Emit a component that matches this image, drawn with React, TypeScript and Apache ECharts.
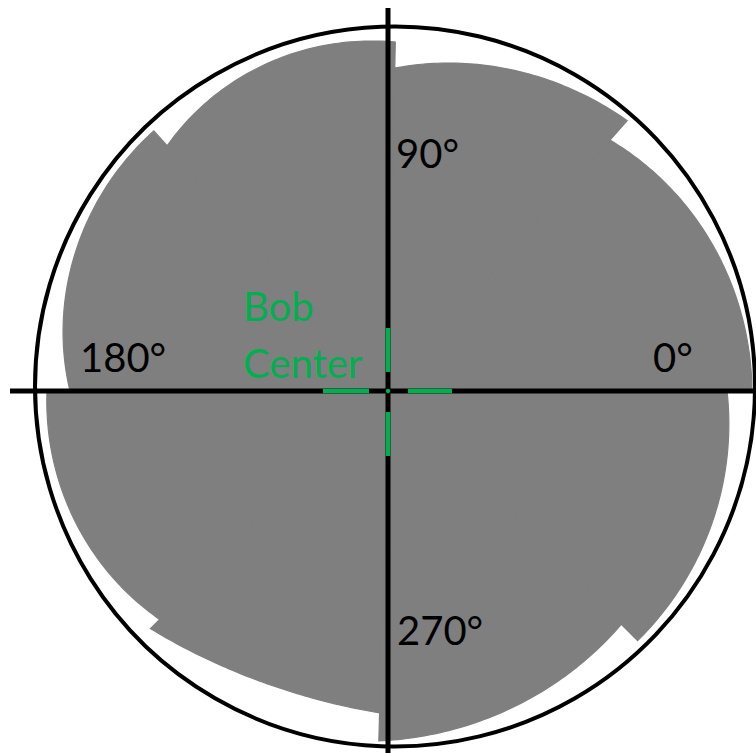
import React, { useEffect, useRef } from "react";
import * as echarts from "echarts";

// Gray "bob" outline: 8 facets, angles in degrees (0° = east, counter-clockwise),
// radius of the facet edge at its start, middle and end angle (chart units = px).
const SECTOR_START_DEG = [0, 48.5, 88.8, 132, 180, 225, 268.5, 315];
const SECTOR_END_DEG = [48.5, 88.8, 132, 180, 225, 268.5, 315, 360];
const SECTOR_R_START = [364, 361, 349, 350, 341, 336, 350, 353];
const SECTOR_R_MID = [356, 344.5, 349, 342, 339, 317, 340, 350];
const SECTOR_R_END = [335, 323, 330, 318, 323, 322, 330, 339];

// Reference circle: centre offset (x, y) and radius
const OUTER_CIRCLE = [[7, 4.5, 360]];

// Cross-hair axes [x1, y1, x2, y2]
const CROSS_LINES = [
  [-378, 0, 368, 0],
  [0, 383, 0, -362],
];

// Green bob-centre marks [x1, y1, x2, y2]
const GREEN_MARKS = [
  [-65, 0, -19, 0],
  [20, 0, 64, 0],
  [0, 19, 0, 63],
  [0, -21, 0, -65],
];
const CENTER_DOT = [[0, 0]];

// Texts
const ANGLE_LABELS = ["0°", "90°", "180°", "270°"];
const CENTER_LABEL = ["Bob", "Center"];

const GRAY = "#7f7f7f";
const GREEN = "#00b050";
const FONT = "Lato, 'Open Sans', sans-serif";

// label layout (pixels)
const ANGLE_LABEL_POS: Record<string, [number, number]> = {
  "0°": [653, 357],
  "90°": [396, 153],
  "180°": [80, 357],
  "270°": [397, 630],
};
const CENTER_LABEL_POS: [number, number][] = [
  [243, 306],
  [243, 363],
];

const lineItem = (color: string, width: number) => (params: any, api: any) => {
  const p1 = api.coord([api.value(0), api.value(1)]);
  const p2 = api.coord([api.value(2), api.value(3)]);
  return {
    type: "line",
    shape: { x1: p1[0], y1: p1[1], x2: p2[0], y2: p2[1] },
    style: { stroke: color, lineWidth: width },
  };
};

export default function App() {
  const ref = useRef<HTMLDivElement>(null);
  useEffect(() => {
    if (!ref.current) return;
    const chart = echarts.init(ref.current, undefined, { renderer: "svg" });

    const sectorData = SECTOR_START_DEG.map((s, i) => [
      s,
      SECTOR_END_DEG[i],
      SECTOR_R_START[i],
      SECTOR_R_MID[i],
      SECTOR_R_END[i],
    ]);
    // inner core (smallest facet radius) painted underneath to hide seams
    const coreRadius =
      Math.min(...SECTOR_R_START, ...SECTOR_R_MID, ...SECTOR_R_END) - 3;

    const option: any = {
      animation: false,
      backgroundColor: "#ffffff",
      grid: { left: 0, right: 0, top: 0, bottom: 0 },
      xAxis: { type: "value", min: -388, max: 368, show: false },
      yAxis: { type: "value", min: -362, max: 391, show: false },
      series: [
        {
          type: "custom",
          silent: true,
          z: 0,
          data: [[0, 0, coreRadius]],
          renderItem: (params: any, api: any) => {
            const c = api.coord([api.value(0), api.value(1)]);
            const r = api.size([api.value(2), 0])[0];
            return {
              type: "circle",
              shape: { cx: c[0], cy: c[1], r },
              style: { fill: GRAY },
            };
          },
        },
        {
          type: "custom",
          silent: true,
          z: 1,
          data: sectorData,
          renderItem: (params: any, api: any) => {
            const a0 = api.value(0);
            const a1 = api.value(1);
            const r0 = api.value(2);
            const rm = api.value(3);
            const r1 = api.value(4);
            const pts: number[][] = [api.coord([0, 0])];
            const N = 60;
            for (let i = 0; i <= N; i++) {
              const t = i / N;
              const r =
                r0 * 2 * (t - 0.5) * (t - 1) +
                rm * -4 * t * (t - 1) +
                r1 * 2 * t * (t - 0.5);
              const a = ((a0 + (a1 - a0) * t) * Math.PI) / 180;
              pts.push(api.coord([r * Math.cos(a), r * Math.sin(a)]));
            }
            return {
              type: "polygon",
              shape: { points: pts },
              style: { fill: GRAY, stroke: GRAY, lineWidth: 1.2, lineJoin: "miter" },
            };
          },
        },
        {
          type: "custom",
          silent: true,
          z: 2,
          data: OUTER_CIRCLE,
          renderItem: (params: any, api: any) => {
            const c = api.coord([api.value(0), api.value(1)]);
            const r = api.size([api.value(2), 0])[0];
            return {
              type: "circle",
              shape: { cx: c[0], cy: c[1], r },
              style: { fill: "none", stroke: "#000", lineWidth: 4 },
            };
          },
        },
        {
          type: "custom",
          silent: true,
          z: 3,
          data: CROSS_LINES,
          renderItem: lineItem("#000", 5),
        },
        {
          type: "custom",
          silent: true,
          z: 4,
          data: GREEN_MARKS,
          renderItem: lineItem(GREEN, 4.5),
        },
        {
          type: "custom",
          silent: true,
          z: 5,
          data: CENTER_DOT,
          renderItem: (params: any, api: any) => {
            const c = api.coord([api.value(0), api.value(1)]);
            return {
              type: "circle",
              shape: { cx: c[0], cy: c[1], r: 2.2 },
              style: { fill: GREEN },
            };
          },
        },
      ],
      graphic: [
        ...ANGLE_LABELS.map((t) => ({
          type: "text",
          z: 10,
          x: ANGLE_LABEL_POS[t][0],
          y: ANGLE_LABEL_POS[t][1],
          style: {
            text: t,
            fill: "#000",
            font: `40px ${FONT}`,
            textAlign: "left",
            textVerticalAlign: "middle",
          },
        })),
        ...CENTER_LABEL.map((t, i) => ({
          type: "text",
          z: 10,
          x: CENTER_LABEL_POS[i][0],
          y: CENTER_LABEL_POS[i][1],
          style: {
            text: t,
            fill: GREEN,
            font: `40px ${FONT}`,
            textAlign: "left",
            textVerticalAlign: "middle",
          },
        })),
      ],
    };
    chart.setOption(option);
    return () => chart.dispose();
  }, []);

  return (
    <div
      ref={ref}
      style={{ position: "fixed", left: 0, top: 0, width: 756, height: 753, background: "#fff" }}
    />
  );
}
